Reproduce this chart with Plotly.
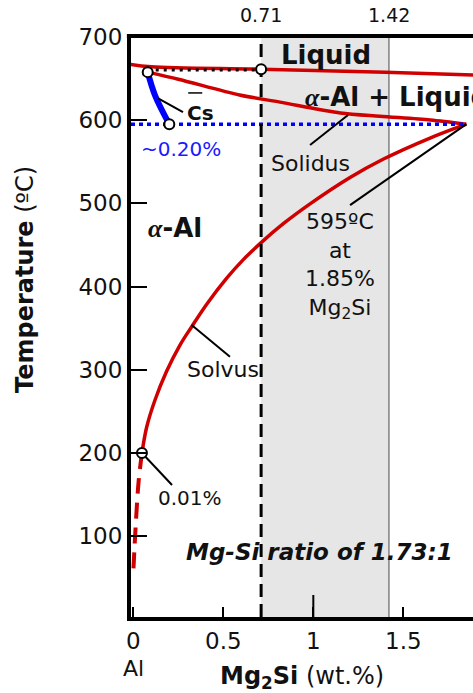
import plotly.graph_objects as go

# ---------------- data ----------------
y_ticks = [100, 200, 300, 400, 500, 600, 700]
x_ticks = [0, 0.5, 1, 1.5]
x_tick_text = ["0", "0.5", "1", "1.5"]
top_marks = [0.71, 1.42]
top_labels = ["0.71", "1.42"]

liquidus_x = [-0.02, 0.1, 0.71, 1.4, 1.9]
liquidus_t = [667, 664, 661, 657.5, 654]

solidus_x = [0.08, 0.25, 0.59, 0.815, 1.15, 1.37, 1.65, 1.85]
solidus_t = [657.5, 649, 630, 621.5, 608.5, 604.5, 600, 595]

solvus_x = [0.048, 0.0744, 0.1206, 0.1856, 0.2594, 0.3244, 0.4078, 0.5189, 0.6111, 0.7133,
            0.8333, 0.9817, 1.2039, 1.3872, 1.6483, 1.85]
solvus_t = [200, 231.2, 263.7, 298.5, 329.7, 351.7, 378.7, 410.0, 432.3, 453.3,
            475.4, 499.2, 530.9, 552.8, 578.3, 595]

solvus_ext_x = [0.048, 0.03, 0.015, 0.0]
solvus_ext_t = [200, 167, 119, 57]

cs_x = [0.08, 0.12, 0.2]
cs_t = [657.5, 630, 595]

eutectic_x = 1.85
eutectic_t = 595

tie_x = [0.08, 0.71]
tie_t = [660, 660]

circle_x = [0.08, 0.2, 0.71, 0.048]
circle_t = [657.5, 595, 661, 200]

leader_x = [[0.138, 0.276], [0.982, 1.193], [1.204, 1.85], [0.324, 0.537], [0.048, 0.215]]
leader_t = [[626, 609.5], [570, 606], [497.7, 595], [353.7, 315.7], [200, 161.6]]

# ---------------- style ----------------
FONT = "DejaVu Sans"
RED = "#d00000"
BLUE = "#0000ff"
INK = "#111111"

X_RANGE = [-0.0128, 1.887]
Y_RANGE = [3, 700.9]

fig = go.Figure()

# red phase boundaries
fig.add_trace(go.Scatter(x=liquidus_x, y=liquidus_t, mode="lines",
                         line=dict(color=RED, width=3.5, shape="spline")))
fig.add_trace(go.Scatter(x=solidus_x, y=solidus_t, mode="lines",
                         line=dict(color=RED, width=3.5, shape="spline", smoothing=0.8)))
fig.add_trace(go.Scatter(x=solvus_x, y=solvus_t, mode="lines",
                         line=dict(color=RED, width=3.5, shape="spline", smoothing=1)))
fig.add_trace(go.Scatter(x=solvus_ext_x, y=solvus_ext_t, mode="lines",
                         line=dict(color=RED, width=4, dash="16px,9px", shape="spline")))

# eutectic isotherm (blue dotted)
fig.add_trace(go.Scatter(x=[X_RANGE[0], eutectic_x], y=[eutectic_t, eutectic_t], mode="lines",
                         line=dict(color=BLUE, width=3.5, dash="4px,4px")))
# average solid composition (blue)
fig.add_trace(go.Scatter(x=cs_x, y=cs_t, mode="lines",
                         line=dict(color=BLUE, width=6, shape="spline")))
# black dotted tie line
fig.add_trace(go.Scatter(x=tie_x, y=tie_t, mode="lines",
                         line=dict(color="black", width=3, dash="3px,5px")))
# dashed vertical at 0.71
fig.add_trace(go.Scatter(x=[top_marks[0], top_marks[0]], y=Y_RANGE, mode="lines",
                         line=dict(color="black", width=3, dash="13px,7px")))
# leader lines
for lx, lt in zip(leader_x, leader_t):
    fig.add_trace(go.Scatter(x=lx, y=lt, mode="lines", line=dict(color="black", width=2)))
# circles
fig.add_trace(go.Scatter(x=circle_x, y=circle_t, mode="markers",
                         marker=dict(size=10, color="white", line=dict(color="black", width=2))))

shapes = [
    dict(type="rect", xref="x", yref="paper", x0=top_marks[0], x1=top_marks[1], y0=0, y1=1,
         fillcolor="#e6e6e6", line=dict(width=0), layer="below"),
    dict(type="line", xref="x", yref="paper", x0=top_marks[1], x1=top_marks[1], y0=0, y1=1,
         line=dict(color="#808080", width=1.5), layer="below"),
    dict(type="line", xref="paper", yref="paper", x0=-0.012, x1=1, y0=1, y1=1,
         line=dict(color="black", width=4)),
    # longer tick at 1
    dict(type="line", xref="x", yref="y", x0=1, x1=1, ysizemode="pixel", yanchor=Y_RANGE[0],
         y0=0, y1=22, line=dict(color="black", width=2)),
    # overbar of Cs
    dict(type="line", xref="x", yref="y", x0=0.305, x1=0.383, y0=632.5, y1=632.5,
         line=dict(color="black", width=1.5)),
]

def ann(text, x, y, size, color=INK, **kw):
    d = dict(text=text, x=x, y=y, xref="x", yref="y", showarrow=False,
             font=dict(family=FONT, size=size, color=color), xanchor="center", yanchor="middle")
    d.update(kw)
    return d

ALPHA = '<span style="font-family:Liberation Serif"><b><i>α</i></b></span>'
annotations = [
    ann("<b>Liquid</b>", 1.07, 678, 26),
    ann(ALPHA + "<b>-Al + Liquid</b>", 0.94, 627.6, 26, xanchor="left"),
    ann(ALPHA + "<b>-Al</b>", 0.232, 470, 26),
    ann("<b>Cs</b>", 0.287, 608, 20, xanchor="left"),
    ann("~0.20%", 0.265, 565, 20, color="#1a1aff"),
    ann("Solidus", 0.982, 548, 22),
    ann("595ºC<br>at<br>1.85%<br>Mg<sub>2</sub>Si", 1.148, 424.6, 22),
    ann("Solvus", 0.5, 300, 22),
    ann("0.01%", 0.315, 146, 20),
    ann("<b><i>Mg-Si ratio of 1.73:1</i></b>", 1.033, 81, 23),
]
for v, lab in zip(top_marks, top_labels):
    annotations.append(dict(text=lab, x=v, y=1, xref="x", yref="paper", yshift=21,
                            showarrow=False, xanchor="center", yanchor="middle",
                            font=dict(family=FONT, size=19, color=INK)))
annotations += [
    dict(text="Al", x=0, y=0, xref="x", yref="paper", yshift=-51, showarrow=False,
         xanchor="center", yanchor="middle", font=dict(family=FONT, size=22, color=INK)),
    dict(text="<b>Mg<sub>2</sub>Si</b> (wt.%)", x=0.5, y=0, xref="paper", yref="paper",
         yshift=-60, showarrow=False, xanchor="center", yanchor="middle",
         font=dict(family=FONT, size=24, color=INK)),
    dict(text="<b>Temperature</b> (ºC)", x=0, y=0.58, xref="paper", yref="paper",
         xshift=-106, textangle=-90, showarrow=False, xanchor="center", yanchor="middle",
         font=dict(family=FONT, size=24, color=INK)),
]

fig.update_layout(
    width=473, height=693,
    margin=dict(l=131, r=0, t=36, b=76),
    paper_bgcolor="white", plot_bgcolor="white",
    showlegend=False,
    shapes=shapes, annotations=annotations,
    font=dict(family=FONT, color=INK),
)
fig.update_xaxes(range=X_RANGE, showgrid=False, zeroline=False, showline=True, linewidth=4,
                 linecolor="black", ticks="inside", ticklen=10, tickwidth=2, tickcolor="black",
                 tickvals=x_ticks, ticktext=x_tick_text, tickfont=dict(family=FONT, size=23, color=INK))
fig.update_yaxes(range=Y_RANGE, showgrid=False, zeroline=False, showline=True, linewidth=4,
                 linecolor="black", ticks="inside", ticklen=16, tickwidth=2, tickcolor="black",
                 tickvals=y_ticks, tickfont=dict(family=FONT, size=23, color=INK))

fig.write_html("out.html")
